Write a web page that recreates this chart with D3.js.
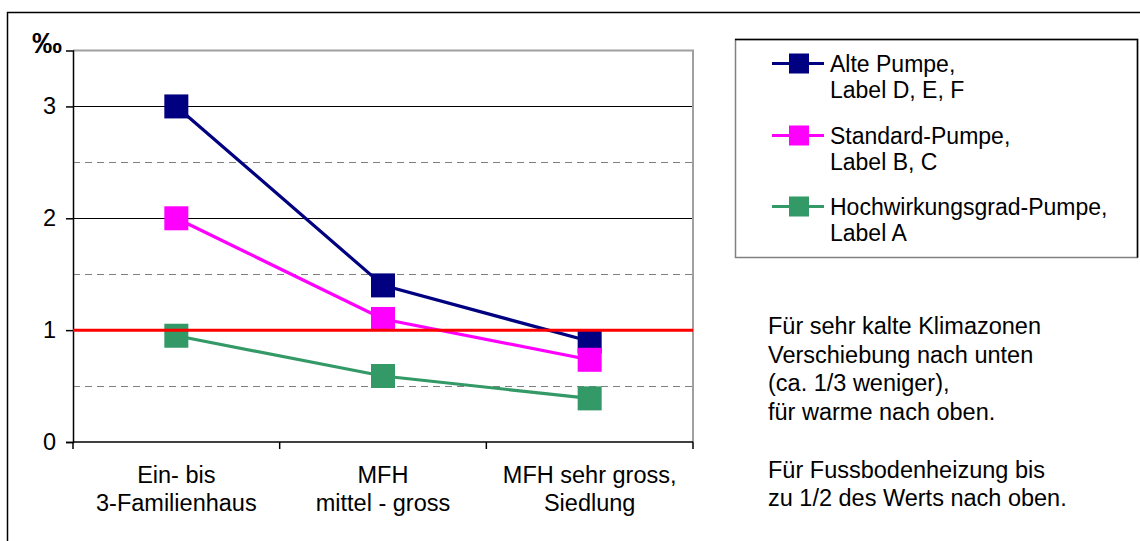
<!DOCTYPE html>
<html>
<head>
<meta charset="utf-8">
<script src="https://cdn.jsdelivr.net/npm/d3@7"></script>
<style>
  html, body { margin: 0; padding: 0; background: #fff; }
  svg { display: block; }
  text { font-family: "Liberation Sans", Arial, sans-serif; fill: #000; }
</style>
</head>
<body>
<svg id="chart" width="1140" height="541"></svg>
<script>
// Pump energy share by building type (per mille)
const categories = [
  ["Ein- bis", "3-Familienhaus"],
  ["MFH", "mittel - gross"],
  ["MFH sehr gross,", "Siedlung"]
];
const seriesNames = [
  ["Alte Pumpe,", "Label D, E, F"],
  ["Standard-Pumpe,", "Label B, C"],
  ["Hochwirkungsgrad-Pumpe,", "Label A"]
];
const altePumpe = [3.0, 1.4, 0.9];
const standardPumpe = [2.0, 1.1, 0.735];
const hochwirkungsgradPumpe = [0.95, 0.59, 0.39];
const seriesColors = ["#000080", "#ff00ff", "#339966"];
const majorTicks = [0, 1, 2, 3];
const minorTicks = [0.5, 1.5, 2.5];
const referenceValue = 1;
const unitLabel = "‰";
const noteLines = [
  "Für sehr kalte Klimazonen",
  "Verschiebung nach unten",
  "(ca. 1/3 weniger),",
  "für warme nach oben.",
  "",
  "Für Fussbodenheizung bis",
  "zu 1/2 des Werts nach oben."
];

const series = [altePumpe, standardPumpe, hochwirkungsgradPumpe];
const svg = d3.select("#chart");
const fontSize = 23.5;
const legendFont = 23;

// Outer chart frame
svg.append("rect")
  .attr("x", 7.5).attr("y", 12.5)
  .attr("width", 1150).attr("height", 550)
  .attr("fill", "#fff").attr("stroke", "#000").attr("stroke-width", 1.5);

const plot = { left: 73, right: 693, top: 50.5, bottom: 442 };

const x = d3.scaleBand()
  .domain(d3.range(categories.length))
  .range([plot.left, plot.right])
  .padding(0);
const y = d3.scaleLinear()
  .domain([0, 3.5])
  .range([plot.bottom, plot.top]);

// Minor dashed gridlines
svg.append("g").selectAll("line")
  .data(minorTicks).join("line")
  .attr("x1", plot.left).attr("x2", plot.right)
  .attr("y1", d => Math.round(y(d)) + 0.5).attr("y2", d => Math.round(y(d)) + 0.5)
  .attr("stroke", "#808080").attr("stroke-width", 1)
  .attr("stroke-dasharray", "7,5");

// Major solid gridlines
svg.append("g").selectAll("line")
  .data(majorTicks.filter(d => d > 0)).join("line")
  .attr("x1", plot.left).attr("x2", plot.right)
  .attr("y1", d => Math.round(y(d)) + 0.5).attr("y2", d => Math.round(y(d)) + 0.5)
  .attr("stroke", "#000").attr("stroke-width", 1);

// Plot area top and right edge
svg.append("path")
  .attr("d", `M${plot.left},${plot.top}H${plot.right}V${plot.bottom}`)
  .attr("fill", "none").attr("stroke", "#a0a0a0").attr("stroke-width", 2);

// Y axis
const yAxis = d3.axisLeft(y).tickValues(majorTicks).tickSize(7).tickPadding(10)
  .tickFormat(d3.format("d"));
const gy = svg.append("g").attr("transform", `translate(${plot.left},0)`).call(yAxis);
gy.select(".domain").attr("stroke", "#000").attr("stroke-width", 1.5);
gy.selectAll(".tick line").attr("stroke", "#000").attr("stroke-width", 1.5);
gy.selectAll(".tick text")
  .style("font-family", "'Liberation Sans', Arial, sans-serif")
  .style("font-size", fontSize + "px").attr("fill", "#000");

// X axis (ticks on category boundaries)
const boundaries = d3.range(categories.length + 1).map(i =>
  i < categories.length ? x(i) : x(categories.length - 1) + x.bandwidth());
const gx = svg.append("g");
gx.append("line")
  .attr("x1", plot.left).attr("x2", plot.right)
  .attr("y1", plot.bottom).attr("y2", plot.bottom)
  .attr("stroke", "#000").attr("stroke-width", 1.5);
gx.selectAll(".bt").data(boundaries).join("line")
  .attr("class", "bt")
  .attr("x1", d => d).attr("x2", d => d)
  .attr("y1", plot.bottom).attr("y2", plot.bottom + 7)
  .attr("stroke", "#000").attr("stroke-width", 1.5);
gx.selectAll(".cat").data(categories).join("text")
  .attr("class", "cat")
  .attr("text-anchor", "middle")
  .attr("font-size", fontSize)
  .each(function (d, i) {
    const t = d3.select(this);
    d.forEach((line, j) => {
      t.append("tspan")
        .attr("x", x(i) + x.bandwidth() / 2)
        .attr("y", 483 + j * 28)
        .text(line);
    });
  });

// Unit label
svg.append("text")
  .attr("x", 32).attr("y", 53)
  .attr("font-size", 30).attr("font-weight", "bold")
  .text(unitLabel);

// Series lines and markers
const line = d3.line()
  .x((d, i) => x(i) + x.bandwidth() / 2)
  .y(d => y(d));
const markerSize = 24;
series.forEach((vals, s) => {
  const g = svg.append("g");
  g.append("path")
    .datum(vals)
    .attr("d", line)
    .attr("fill", "none")
    .attr("stroke", seriesColors[s])
    .attr("stroke-width", 3.2);
  g.selectAll("rect").data(vals).join("rect")
    .attr("x", (d, i) => x(i) + x.bandwidth() / 2 - markerSize / 2)
    .attr("y", d => y(d) - markerSize / 2)
    .attr("width", markerSize).attr("height", markerSize)
    .attr("fill", seriesColors[s]);
});

// Reference line at 1 ‰
svg.append("line")
  .attr("x1", plot.left).attr("x2", plot.right)
  .attr("y1", y(referenceValue)).attr("y2", y(referenceValue))
  .attr("stroke", "#ff0000").attr("stroke-width", 3);

// Legend
const legend = { x: 735, y: 39.5, w: 402, h: 218 };
const lg = svg.append("g");
lg.append("rect")
  .attr("x", legend.x + 0.5).attr("y", legend.y)
  .attr("width", legend.w).attr("height", legend.h)
  .attr("fill", "#fff").attr("stroke", "#808080").attr("stroke-width", 1.5);
lg.append("path")
  .attr("d", `M${legend.x},${legend.y}H${legend.x + legend.w + 0.5}V${legend.y + legend.h}`)
  .attr("fill", "none").attr("stroke", "#000").attr("stroke-width", 1.5);
const itemY = [63.5, 135.5, 206.5];
seriesNames.forEach((names, s) => {
  const cy = itemY[s];
  lg.append("line")
    .attr("x1", 772).attr("x2", 824)
    .attr("y1", cy).attr("y2", cy)
    .attr("stroke", seriesColors[s]).attr("stroke-width", 3);
  lg.append("rect")
    .attr("x", 789).attr("y", cy - 10)
    .attr("width", 20).attr("height", 20)
    .attr("fill", seriesColors[s]);
  const t = lg.append("text").attr("font-size", legendFont);
  names.forEach((n, j) => {
    t.append("tspan").attr("x", 830).attr("y", cy + 8 + j * 26).text(n);
  });
});

// Side note
const note = svg.append("text").attr("font-size", fontSize);
noteLines.forEach((l, i) => {
  note.append("tspan").attr("x", 768).attr("y", 334 + i * 28.7).text(l);
});
</script>
</body>
</html>
